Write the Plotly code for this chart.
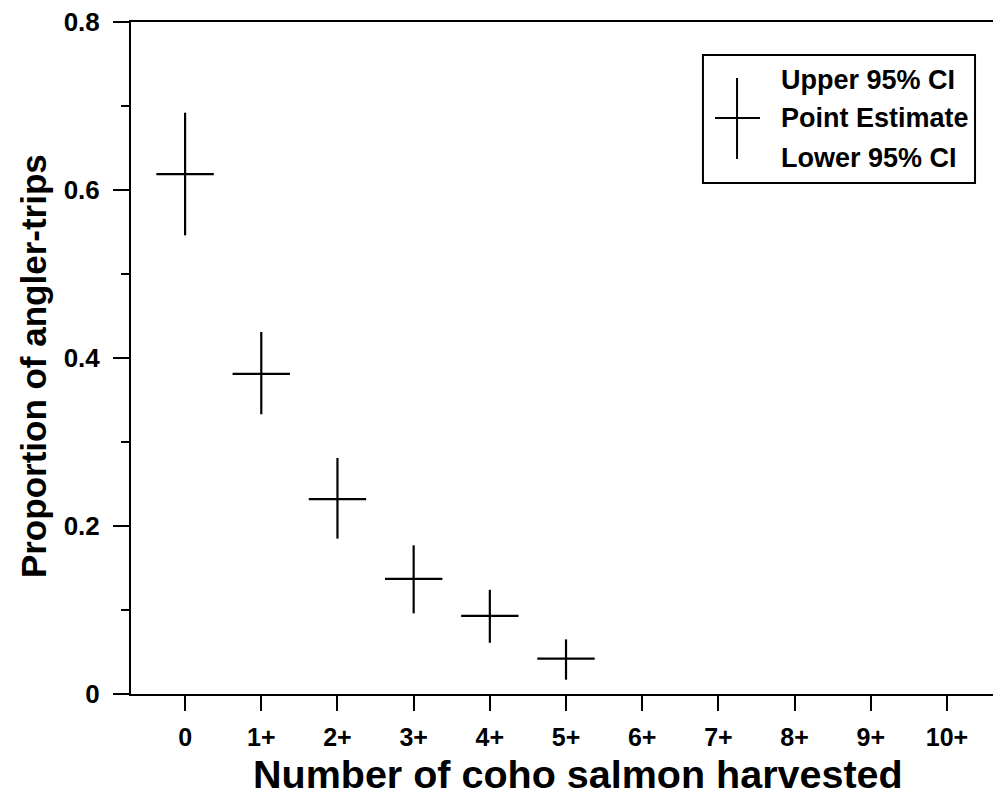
import plotly.graph_objects as go

categories = ["0", "1+", "2+", "3+", "4+", "5+", "6+", "7+", "8+", "9+", "10+"]
est_categories = ["0", "1+", "2+", "3+", "4+", "5+"]
point_estimate = [0.619, 0.381, 0.232, 0.137, 0.093, 0.042]
upper_ci = [0.692, 0.431, 0.281, 0.177, 0.124, 0.065]
lower_ci = [0.546, 0.333, 0.185, 0.096, 0.061, 0.017]
legend_labels = ["Upper 95% CI", "Point Estimate", "Lower 95% CI"]

FONT = "Liberation Sans, Arial, sans-serif"

err_plus = [u - p for u, p in zip(upper_ci, point_estimate)]
err_minus = [p - l for p, l in zip(point_estimate, lower_ci)]

fig = go.Figure()
fig.add_trace(go.Scatter(
    x=est_categories, y=point_estimate, mode="markers",
    marker=dict(symbol="line-ew", size=41, color="black",
                line=dict(color="black", width=2.2)),
    error_y=dict(type="data", symmetric=False, array=err_plus,
                 arrayminus=err_minus, width=0, thickness=2.2, color="black"),
    showlegend=False, hoverinfo="skip",
))

# the page adds an 8px body margin, so the figure is sized to fit the window
fig.update_layout(
    width=993, height=787,
    margin=dict(l=123, r=3, t=14, b=101, autoexpand=False),
    paper_bgcolor="white", plot_bgcolor="white",
    font=dict(family=FONT, color="black"),
    showlegend=False,
)

fig.update_xaxes(
    type="category", categoryorder="array", categoryarray=categories,
    range=[-0.71, 10.67], automargin=False,
    showline=True, linewidth=2, linecolor="black", mirror=True,
    ticks="outside", ticklen=15, tickwidth=2, tickcolor="black",
    tickfont=dict(family=FONT, size=25, weight="bold"),
    ticklabelstandoff=5, ticklabeloverflow="allow",
    showgrid=False, zeroline=False,
)
fig.update_yaxes(
    range=[0, 0.8], automargin=False,
    tickvals=[0, 0.2, 0.4, 0.6, 0.8], ticktext=["0", "0.2", "0.4", "0.6", "0.8"],
    showline=True, linewidth=2, linecolor="black", mirror=True,
    ticks="outside", ticklen=16, tickwidth=2, tickcolor="black",
    minor=dict(tickvals=[0.1, 0.3, 0.5, 0.7], ticks="outside", ticklen=8,
               tickwidth=2, tickcolor="black", showgrid=False),
    tickfont=dict(family=FONT, size=26, weight="bold"),
    ticklabelstandoff=8, ticklabeloverflow="allow",
    showgrid=False, zeroline=False,
)

# Axis titles
fig.add_annotation(text="Number of coho salmon harvested", xref="paper", yref="paper",
                   x=0.5156, y=-0.119, xanchor="center", yanchor="middle",
                   showarrow=False,
                   font=dict(family=FONT, size=39.5, weight="bold", color="black"))
fig.add_annotation(text="Proportion of angler-trips", xref="paper", yref="paper",
                   x=-0.113, y=0.488, xanchor="center", yanchor="middle",
                   textangle=-90, showarrow=False,
                   font=dict(family=FONT, size=35, weight="bold", color="black"))

# Legend box drawn in paper coordinates
fig.add_shape(type="rect", xref="paper", yref="paper",
              x0=0.6597, x1=0.9735, y0=0.7604, y1=0.9509,
              line=dict(color="black", width=2), fillcolor="white")
fig.add_shape(type="line", xref="paper", yref="paper",
              x0=0.699, x1=0.699, y0=0.7961, y1=0.9167,
              line=dict(color="black", width=2))
fig.add_shape(type="line", xref="paper", yref="paper",
              x0=0.6736, x1=0.7255, y0=0.8571, y1=0.8571,
              line=dict(color="black", width=2))
for lab, yy in zip(legend_labels, [0.9137, 0.8571, 0.7976]):
    fig.add_annotation(text=lab, xref="paper", yref="paper", x=0.7474, y=yy,
                       xanchor="left", yanchor="middle", showarrow=False,
                       font=dict(family=FONT, size=27, weight="bold", color="black"))

fig.write_html("out.html")
